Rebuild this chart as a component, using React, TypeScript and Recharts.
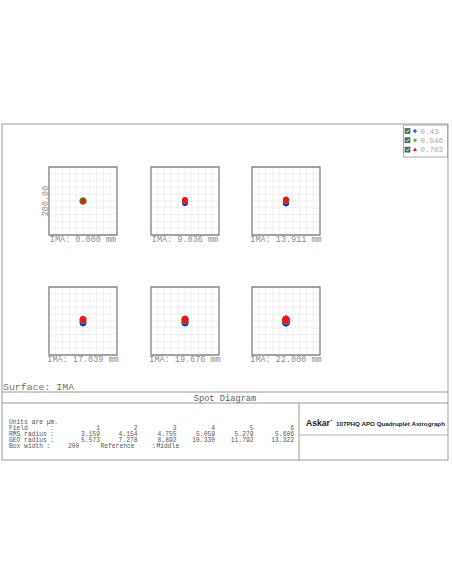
import { ScatterChart, Scatter, XAxis, YAxis, CartesianGrid, ReferenceArea } from "recharts";

const WAVELENGTHS = ["0.43", "0.546", "0.703"];
const FIELD_LABELS = [
    "IMA: 0.000 mm",
    "IMA: 9.836 mm",
    "IMA: 13.911 mm",
    "IMA: 17.039 mm",
    "IMA: 19.676 mm",
    "IMA: 22.000 mm",
];
const FIELDS = ["1", "2", "3", "4", "5", "6"];
const RMS_RADIUS = ["3.159", "4.154", "4.755", "5.059", "5.279", "5.606"];
const GEO_RADIUS = ["5.573", "7.278", "8.892", "10.330", "11.792", "13.322"];
const BOX_WIDTH = "200";
const SCALE_LABEL = "200.00";
const GRID_TICKS = [-100, -80, -60, -40, -20, 0, 20, 40, 60, 80, 100];

// ray hits in µm, one list per field
const BLUE_RAYS = [
    [[0, 0], [3, 0], [-3, 0], [0, 3], [0, -3], [2, 2], [-2, 2], [2, -2], [-2, -2]],
    [[0, -6], [3, -6], [-3, -6], [0, -3], [0, -9], [2, -4], [-2, -4], [2, -8], [-2, -8]],
    [[0, -6.5], [3.5, -6.5], [-3.5, -6.5], [0, -3], [0, -10], [2.5, -4], [-2.5, -4], [2.5, -9], [-2.5, -9]],
    [[0, -5.5], [4.5, -5.5], [-4.5, -5.5], [0, -1], [0, -10], [3, -2.5], [-3, -2.5], [3, -8.5], [-3, -8.5]],
    [[0, -5.5], [5, -5.5], [-5, -5.5], [0, -0.5], [0, -10.5], [3.5, -2], [-3.5, -2], [3.5, -9], [-3.5, -9]],
    [[0, -5], [6, -5], [-6, -5], [0, 1], [0, -11], [4, -1], [-4, -1], [4, -9], [-4, -9]],
];
const GREEN_RAYS = [
    [[0, 0], [5, 0], [-5, 0], [0, 5], [0, -5], [3.5, 3.5], [-3.5, 3.5], [3.5, -3.5], [-3.5, -3.5]],
    [[0, -1], [3, -1], [-3, -1], [0, 2], [0, -4], [2, 1], [-2, 1], [2, -3], [-2, -3]],
    [[0, -1], [3.5, -1], [-3.5, -1], [0, 2.5], [0, -4.5], [2.5, 1.5], [-2.5, 1.5], [2.5, -3.5], [-2.5, -3.5]],
    [[0, 0], [4.5, 0], [-4.5, 0], [0, 4.5], [0, -4.5], [3, 3], [-3, 3], [3, -3], [-3, -3]],
    [[0, 0], [5, 0], [-5, 0], [0, 5], [0, -5], [3.5, 3.5], [-3.5, 3.5], [3.5, -3.5], [-3.5, -3.5]],
    [[0, 0], [6, 0], [-6, 0], [0, 6], [0, -6], [4, 4], [-4, 4], [4, -4], [-4, -4]],
];
const RED_RAYS = [
    [[0, 0], [1.5, 0], [-1.5, 0], [0, 1.5], [0, -1.5], [1, 1], [-1, 1], [1, -1], [-1, -1]],
    [[0, 3], [3, 3], [-3, 3], [0, 6], [0, 0], [2, 5], [-2, 5], [2, 1], [-2, 1]],
    [[0, 4], [3.5, 4], [-3.5, 4], [0, 7.5], [0, 0.5], [2.5, 6.5], [-2.5, 6.5], [2.5, 1.5], [-2.5, 1.5]],
    [[0, 5], [4.5, 5], [-4.5, 5], [0, 9.5], [0, 0.5], [3, 8], [-3, 8], [3, 2], [-3, 2]],
    [[0, 5], [5, 5], [-5, 5], [0, 10], [0, 0], [3.5, 8.5], [-3.5, 8.5], [3.5, 1.5], [-3.5, 1.5]],
    [[0, 5], [6, 5], [-6, 5], [0, 11], [0, -1], [4, 9], [-4, 9], [4, 1], [-4, 1]],
];

const COLORS = ["#1a1aff", "#1f9a2a", "#ff1010"];
const MONO = "'Liberation Mono', 'DejaVu Sans Mono', monospace";
const BOX_X = [49, 151, 252];
const BOX_Y = [167, 287];
const BOX = 68;
const COL_X = [100, 137.5, 176.5, 215, 253.5, 294];

const toPoints = (rays: number[][]) => rays.map(([x, y]) => ({ x, y }));

const SpotBox = ({ field }: { field: number }) => {
    const series = [BLUE_RAYS[field], GREEN_RAYS[field], RED_RAYS[field]];
    return (
        <ScatterChart width={BOX + 2} height={BOX + 2} margin={{ top: 1, right: 1, bottom: 1, left: 1 }}>
            <CartesianGrid stroke="#ebebeb" strokeWidth={0.8} />
            <XAxis type="number" dataKey="x" domain={[-100, 100]} ticks={GRID_TICKS} interval={0} hide />
            <YAxis type="number" dataKey="y" domain={[-100, 100]} ticks={GRID_TICKS} interval={0} hide />
            <ReferenceArea x1={-100} x2={100} y1={-100} y2={100} fill="none" stroke="#858585" strokeWidth={1.3} ifOverflow="visible" />
            {series.map((rays, i) => (
                <Scatter
                    key={i}
                    data={toPoints(rays)}
                    isAnimationActive={false}
                    shape={(p: any) => <circle cx={p.cx} cy={p.cy} r={2} fill={COLORS[i]} />}
                />
            ))}
        </ScatterChart>
    );
};

export default function App() {
    const rowY = [424, 430, 436, 442, 448];
    return (
        <div style={{ position: "absolute", left: 0, top: 0, width: 452, height: 584, background: "#fff" }}>
            <svg width={452} height={584} style={{ position: "absolute", left: 0, top: 0 }}>
                {/* frame */}
                <rect x={2} y={124} width={446} height={336} fill="none" stroke="#9a9a9a" />
                <line x1={2} x2={448} y1={392} y2={392} stroke="#9a9a9a" />
                <line x1={2} x2={448} y1={403} y2={403} stroke="#9a9a9a" />
                <line x1={299} x2={299} y1={403} y2={460} stroke="#9a9a9a" />
                <line x1={299} x2={448} y1={435} y2={435} stroke="#b0b0b0" />

                {/* legend */}
                <rect x={403.5} y={125} width={44} height={32} fill="#fff" stroke="#a8a8a8" />
                {WAVELENGTHS.map((w, i) => {
                    const y = 131 + i * 9.3;
                    return (
                        <g key={w}>
                            <rect x={405} y={y - 2.5} width={5} height={5} fill="#4c7a5c" stroke="#2e4a38" strokeWidth={0.6} />
                            <path d={`M${406} ${y} L${407.3} ${y + 1.3} L${409.2} ${y - 1.3}`} stroke="#fff" strokeWidth={0.8} fill="none" />
                            {i === 0 && (
                                <path d={`M${413} ${y} H${417} M${415} ${y - 2} V${y + 2}`} stroke={COLORS[0]} strokeWidth={1.1} />
                            )}
                            {i === 1 && <rect x={413.5} y={y - 1.5} width={3} height={3} fill="#22dd22" />}
                            {i === 2 && <path d={`M${415} ${y - 2} L${417} ${y + 1.5} L${413} ${y + 1.5} Z`} fill={COLORS[2]} />}
                            <text x={420.5} y={y + 2.5} fontFamily={MONO} fontSize={7.5} fill="#a6a6a6">{w}</text>
                        </g>
                    );
                })}

                {/* field labels */}
                {FIELD_LABELS.map((label, i) => (
                    <text
                        key={label}
                        x={BOX_X[i % 3] + BOX / 2}
                        y={BOX_Y[Math.floor(i / 3)] + BOX + 7}
                        textAnchor="middle"
                        fontFamily={MONO}
                        fontSize={8.5}
                        fill="#8c8c8c"
                    >
                        {label}
                    </text>
                ))}
                <text
                    x={47.5}
                    y={201}
                    transform="rotate(-90 47.5 201)"
                    textAnchor="middle"
                    fontFamily={MONO}
                    fontSize={8.5}
                    fill="#8c8c8c"
                >
                    {SCALE_LABEL}
                </text>

                <text x={3} y={389.5} fontFamily={MONO} fontSize={9.9} fill="#707070">Surface: IMA</text>
                <text x={225} y={401} textAnchor="middle" fontFamily={MONO} fontSize={8.7} fill="#606060">Spot Diagram</text>

                {/* data table */}
                <g fontFamily={MONO} fontSize={6.3} fill="#555">
                    <text x={9} y={rowY[0]}>Units are µm.</text>
                    <text x={9} y={rowY[1]}>Field</text>
                    <text x={9} y={rowY[2]}>RMS radius</text>
                    <text x={9} y={rowY[3]}>GEO radius</text>
                    <text x={9} y={rowY[4]}>Box width</text>
                    <text x={50} y={rowY[1]}>:</text>
                    <text x={50} y={rowY[2]}>:</text>
                    <text x={50} y={rowY[3]}>:</text>
                    <text x={46.5} y={rowY[4]}>:</text>
                    <text x={68} y={rowY[4]}>{BOX_WIDTH}</text>
                    <text x={100.5} y={rowY[4]}>Reference</text>
                    <text x={152} y={rowY[4]}>:</text>
                    <text x={156.5} y={rowY[4]}>Middle</text>
                    {FIELDS.map((f, i) => (
                        <g key={f} textAnchor="end">
                            <text x={COL_X[i]} y={rowY[1]}>{f}</text>
                            <text x={COL_X[i]} y={rowY[2]}>{RMS_RADIUS[i]}</text>
                            <text x={COL_X[i]} y={rowY[3]}>{GEO_RADIUS[i]}</text>
                        </g>
                    ))}
                </g>

                {/* title block */}
                <text x={306} y={426} fontFamily="'Liberation Sans', Arial, sans-serif" fontWeight="bold" fontSize={8.6} fill="#222">Askar</text>
                <text x={330.5} y={420.5} fontFamily="'Liberation Sans', Arial, sans-serif" fontWeight="bold" fontSize={3.5} fill="#222">+</text>
                <text
                    x={336}
                    y={425.5}
                    fontFamily="'Liberation Sans', Arial, sans-serif"
                    fontWeight="bold"
                    fontSize={5.7}
                    fill="#222"
                    textLength={109}
                    lengthAdjust="spacingAndGlyphs"
                >
                    107PHQ APO Quadruplet Astrograph
                </text>
            </svg>

            {FIELD_LABELS.map((label, i) => (
                <div
                    key={label}
                    style={{ position: "absolute", left: BOX_X[i % 3] - 1, top: BOX_Y[Math.floor(i / 3)] - 1 }}
                >
                    <SpotBox field={i} />
                </div>
            ))}
        </div>
    );
}
